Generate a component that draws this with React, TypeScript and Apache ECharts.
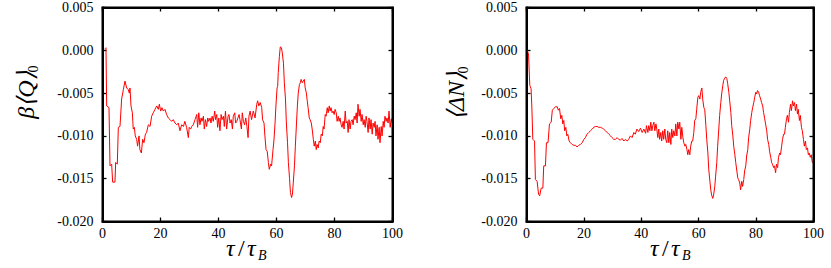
import React, { useEffect, useRef } from "react";
import * as echarts from "echarts";

// Left panel: beta <Q>_0 versus tau/tau_B
const qTimes = [
  0.9, 1.2, 1.44, 2.24, 2.59, 3.16, 3.5, 4.3, 4.54, 5.1, 5.46, 6.03, 6.6, 7.18, 7.76, 8.33, 8.9, 9.25, 9.48, 9.83,
  10.3, 10.6, 10.98, 11.3, 11.78, 12.1, 12.6, 12.9, 13.4, 13.85, 14.3, 14.8, 15.2, 15.8, 16.4, 16.95, 17.5, 18.1, 18.7, 19.25,
  19.6, 20.06, 20.5, 20.98, 21.55, 22.1, 22.7, 23.3, 23.85, 24.4, 25.0, 25.6, 26.15, 26.7, 27.3, 27.9, 28.4, 29.0, 29.6, 29.9,
  30.4, 30.75, 31.3, 31.9, 32.5, 32.8, 33.2, 33.6, 34.0, 34.3, 34.8, 35.1, 35.5, 35.9, 36.3, 36.6, 37.1, 37.4, 37.8, 38.2,
  38.7, 39.0, 39.4, 39.7, 40.1, 40.5, 40.9, 41.2, 41.7, 42.0, 42.4, 42.8, 43.3, 43.6, 44.0, 44.4, 44.8, 45.1, 45.6, 45.9,
  46.3, 46.7, 47.1, 47.4, 47.9, 48.2, 48.6, 49.0, 49.4, 49.8, 50.2, 50.5, 50.9, 51.4, 52.0, 52.6, 53.2, 53.5, 53.9, 54.4,
  54.9, 55.2, 55.7, 56.0, 56.4, 56.8, 57.2, 57.5, 58.0, 58.3, 58.8, 59.1, 59.5, 59.8, 60.2, 60.4, 60.6, 61.0, 61.3, 61.7,
  62.0, 62.4, 62.7, 63.1, 63.4, 63.8, 64.1, 64.5, 64.8, 65.2, 65.5, 65.8, 66.2, 66.5, 66.9, 67.2, 67.5, 67.9, 68.2, 68.5,
  68.9, 69.2, 69.6, 69.9, 70.3, 70.6, 70.9, 71.3, 71.6, 72.0, 72.3, 72.7, 73.0, 73.4, 73.7, 74.0, 74.4, 74.7, 75.1, 75.4,
  75.8, 76.1, 76.4, 76.8, 77.1, 77.5, 77.8, 78.2, 78.5, 78.8, 79.2, 79.5, 79.9, 80.2, 80.6, 80.9, 81.3, 81.6, 81.9, 82.3,
  82.6, 83.0, 83.3, 83.7, 84.0, 84.4, 84.7, 85.0, 85.4, 85.7, 86.1, 86.4, 86.8, 87.1, 87.5, 87.8, 88.1, 88.5, 88.8, 89.2,
  89.5, 89.9, 90.2, 90.6, 90.9, 91.2, 91.6, 91.9, 92.3, 92.6, 93.0, 93.3, 93.7, 94.0, 94.3, 94.7, 95.0, 95.4, 95.7, 96.1,
  96.4, 96.8, 97.1, 97.4, 97.8, 98.1, 98.5, 98.8, 99.2, 99.6, 100,
];
const qValues = [
  0.0002, 0.0003, -0.0065, -0.0067, -0.0135, -0.0133, -0.0154, -0.0154, -0.0131, -0.0133, -0.009, -0.0089, -0.0057, -0.0046, -0.0036, -0.0044, -0.0046, -0.005, -0.0044, -0.0065,
  -0.0073, -0.0092, -0.009, -0.01, -0.0104, -0.0112, -0.01, -0.0116, -0.012, -0.0104, -0.0108, -0.0098, -0.0096, -0.0087, -0.0089, -0.0077, -0.0073, -0.0069, -0.0065, -0.0069,
  -0.0063, -0.0071, -0.0067, -0.0071, -0.0069, -0.0075, -0.0079, -0.0081, -0.0083, -0.0081, -0.0085, -0.0087, -0.0085, -0.0094, -0.0087, -0.0089, -0.0083, -0.009, -0.0102, -0.009,
  -0.0092, -0.0089, -0.0087, -0.0081, -0.0075, -0.009, -0.0073, -0.0087, -0.0079, -0.0083, -0.0077, -0.0092, -0.0081, -0.0089, -0.0079, -0.0083, -0.0079, -0.0085, -0.0077, -0.0083,
  -0.0071, -0.0081, -0.0075, -0.009, -0.0079, -0.0094, -0.0075, -0.0081, -0.0077, -0.0089, -0.0071, -0.0092, -0.0077, -0.0075, -0.0085, -0.0081, -0.0092, -0.0077, -0.0073, -0.0085,
  -0.0083, -0.0079, -0.0075, -0.0081, -0.0092, -0.0073, -0.0083, -0.0087, -0.0079, -0.0089, -0.0102, -0.0077, -0.0071, -0.0081, -0.0071, -0.0079, -0.0063, -0.0059, -0.0065, -0.0061,
  -0.0067, -0.0081, -0.0085, -0.01, -0.0116, -0.0118, -0.0131, -0.0139, -0.0133, -0.0135, -0.0116, -0.0106, -0.0085, -0.0065, -0.0044, -0.0042, -0.0026, -0.0007, 0.0004, 0.0003,
  -0.0003, -0.0015, -0.0038, -0.0057, -0.0085, -0.0108, -0.0131, -0.015, -0.0166, -0.0172, -0.0168, -0.0154, -0.0135, -0.0112, -0.0085, -0.0065, -0.005, -0.004, -0.0038, -0.0034,
  -0.0038, -0.0036, -0.0034, -0.0044, -0.005, -0.0059, -0.0067, -0.0079, -0.0081, -0.0085, -0.0092, -0.0104, -0.0112, -0.0106, -0.0116, -0.011, -0.0114, -0.0106, -0.0108, -0.0098,
  -0.01, -0.0089, -0.0092, -0.0075, -0.0077, -0.0067, -0.0073, -0.0065, -0.0071, -0.0067, -0.0073, -0.0071, -0.0075, -0.0069, -0.0073, -0.0083, -0.0077, -0.0083, -0.0079, -0.0087,
  -0.009, -0.0083, -0.0092, -0.0071, -0.0085, -0.0083, -0.0096, -0.0081, -0.0092, -0.0083, -0.0081, -0.0087, -0.0077, -0.0081, -0.0073, -0.0085, -0.0063, -0.0077, -0.0069, -0.0083,
  -0.0075, -0.0087, -0.0081, -0.009, -0.0077, -0.0083, -0.0096, -0.0079, -0.0092, -0.0081, -0.0098, -0.0085, -0.009, -0.0083, -0.01, -0.0087, -0.0104, -0.009, -0.0108, -0.0089,
  -0.01, -0.0083, -0.009, -0.0077, -0.0083, -0.0079, -0.0085, -0.0071, -0.009, -0.008, -0.0085,
];

// Right panel: <Delta N>_0 versus tau/tau_B
const nTimes = [
  0.22, 0.7, 1.15, 1.6, 1.85, 2.2, 2.8, 3.1, 3.7, 4.2, 4.6, 5.1, 5.7, 6.0, 6.6, 6.95, 7.5, 8.0, 8.6, 9.0,
  9.5, 10.1, 10.7, 11.1, 11.5, 11.95, 12.3, 12.65, 13.0, 13.3, 13.7, 14.05, 14.4, 14.85, 15.3, 15.9, 16.5, 17.1, 17.6, 18.2,
  18.8, 19.4, 20.0, 20.5, 21.1, 21.7, 22.3, 22.9, 23.4, 24.0, 24.6, 25.2, 25.8, 26.4, 26.9, 27.5, 28.1, 28.7, 29.3, 29.8,
  30.4, 31.0, 31.6, 32.1, 32.7, 33.3, 33.9, 34.5, 35.1, 35.6, 36.2, 36.8, 37.4, 37.9, 38.5, 39.1, 39.7, 40.3, 40.9, 41.5,
  41.8, 42.3, 42.6, 43.0, 43.3, 43.7, 44.0, 44.4, 44.7, 45.1, 45.4, 45.75, 46.1, 46.4, 46.8, 47.1, 47.5, 47.8, 48.2, 48.5,
  48.9, 49.2, 49.6, 49.9, 50.3, 50.6, 50.97, 51.3, 51.7, 52.0, 52.4, 52.7, 53.1, 53.4, 53.8, 54.1, 54.5, 54.8, 55.2, 55.5,
  55.9, 56.2, 56.5, 56.9, 57.2, 57.6, 57.9, 58.3, 58.6, 59.0, 59.3, 59.7, 60.0, 60.4, 60.7, 61.1, 61.4, 61.8, 62.1, 62.5,
  62.8, 63.2, 63.5, 63.9, 64.2, 64.5, 64.9, 65.2, 65.6, 65.9, 66.3, 66.6, 67.0, 67.3, 67.7, 68.0, 68.4, 68.7, 69.1, 69.4,
  69.8, 70.1, 70.5, 70.8, 71.2, 71.5, 71.9, 72.2, 72.6, 72.9, 73.3, 73.6, 73.9, 74.3, 74.6, 75.0, 75.3, 75.7, 76.0, 76.4,
  76.7, 77.1, 77.4, 77.8, 78.1, 78.5, 78.8, 79.2, 79.5, 79.9, 80.2, 80.5, 80.9, 81.2, 81.6, 81.9, 82.3, 82.6, 83.0, 83.3,
  83.7, 84.0, 84.4, 84.7, 85.1, 85.4, 85.7, 86.1, 86.4, 86.8, 87.1, 87.5, 87.8, 88.2, 88.5, 88.9, 89.2, 89.6, 89.9, 90.2,
  90.6, 90.9, 91.3, 91.6, 92.0, 92.3, 92.7, 93.0, 93.4, 93.7, 94.1, 94.4, 94.7, 95.1, 95.4, 95.8, 96.1, 96.5, 96.8, 97.2,
  97.5, 97.9, 98.2, 98.5, 98.9, 99.2, 99.6, 99.9,
];
const nValues = [
  0.0, -0.0004, -0.0041, -0.0045, -0.0065, -0.0104, -0.0106, -0.0151, -0.0153, -0.0168, -0.017, -0.0161, -0.0161, -0.0135, -0.0135, -0.0108, -0.0108, -0.0086, -0.0084, -0.007,
  -0.0068, -0.0066, -0.0066, -0.007, -0.0068, -0.008, -0.0076, -0.0086, -0.0082, -0.0094, -0.009, -0.01, -0.0098, -0.0106, -0.0108, -0.011, -0.0111, -0.0111, -0.0113, -0.0111,
  -0.011, -0.0108, -0.0104, -0.0102, -0.0098, -0.0096, -0.0094, -0.0092, -0.009, -0.0089, -0.0089, -0.009, -0.009, -0.0091, -0.0092, -0.0094, -0.0096, -0.0098, -0.01, -0.0102,
  -0.0104, -0.0104, -0.0102, -0.0104, -0.0105, -0.0103, -0.0106, -0.0104, -0.0106, -0.0104, -0.01, -0.0102, -0.0096, -0.0098, -0.0092, -0.0095, -0.0091, -0.0096, -0.0092, -0.0097,
  -0.0088, -0.0096, -0.0088, -0.0094, -0.0084, -0.0094, -0.0088, -0.0084, -0.0094, -0.0086, -0.0092, -0.0102, -0.0092, -0.0104, -0.0096, -0.0106, -0.0094, -0.0104, -0.0092, -0.0104,
  -0.0108, -0.0094, -0.0108, -0.0096, -0.011, -0.0092, -0.0102, -0.0094, -0.01, -0.0086, -0.01, -0.0084, -0.0092, -0.0084, -0.0104, -0.009, -0.0102, -0.0108, -0.0112, -0.011,
  -0.0116, -0.0122, -0.0116, -0.0122, -0.0112, -0.0106, -0.0106, -0.0096, -0.0082, -0.008, -0.0069, -0.0055, -0.0053, -0.0057, -0.0049, -0.0044, -0.0057, -0.0067, -0.0069, -0.0088,
  -0.0104, -0.012, -0.0139, -0.0153, -0.0163, -0.0169, -0.0173, -0.0169, -0.0159, -0.0147, -0.0131, -0.0112, -0.0092, -0.0076, -0.0061, -0.0051, -0.0041, -0.0035, -0.00325, -0.0031,
  -0.0033, -0.0039, -0.0049, -0.0059, -0.00725, -0.0088, -0.01, -0.0112, -0.0122, -0.0131, -0.0141, -0.0149, -0.0151, -0.0155, -0.0163, -0.0153, -0.0159, -0.0151, -0.0141, -0.0135,
  -0.01235, -0.0116, -0.0102, -0.0092, -0.0082, -0.00725, -0.0067, -0.0061, -0.0055, -0.0049, -0.0051, -0.0047, -0.0049, -0.0053, -0.0057, -0.0061, -0.0065, -0.00725, -0.008, -0.0086,
  -0.0094, -0.0104, -0.011, -0.0118, -0.0125, -0.0131, -0.0133, -0.0137, -0.0135, -0.0143, -0.0133, -0.0137, -0.0125, -0.012, -0.0122, -0.0112, -0.0104, -0.0098, -0.0098, -0.009,
  -0.008, -0.0076, -0.0084, -0.00725, -0.0063, -0.00705, -0.0059, -0.0065, -0.0061, -0.00705, -0.0063, -0.00745, -0.0069, -0.0082, -0.0076, -0.009, -0.0094, -0.0104, -0.0112, -0.0106,
  -0.0116, -0.0114, -0.0122, -0.012, -0.0125, -0.0122, -0.0131, -0.0132,
];

const xTicks = { min: 0, max: 100, interval: 20 };
const yTicks = { min: -0.02, max: 0.005, interval: 0.005 };

const SERIF = "serif";

function fmtY(v: number): string {
  if (Math.abs(v) < 1e-9) return "0.000";
  return v.toFixed(3);
}

const tf = (size: number, italic: boolean) => ({
  fontFamily: SERIF, fontSize: size, fontStyle: italic ? "italic" : "normal", fill: "#000",
});

function buildOption(times: number[], values: number[], gridLeft: number, gridWidth: number, yTitle: string, yTitleX: number, yTitleY: number, xTitleX: number) {
  const mkTick = () => ({ show: true, inside: true, length: 4, lineStyle: { color: "#000", width: 1.3 } });
  const mkLine = () => ({ show: true, onZero: false, lineStyle: { color: "#000", width: 2 } });
  return {
    animation: false,
    textStyle: { fontFamily: SERIF },
    grid: [{ left: gridLeft, top: 7.5, width: gridWidth, height: 214 }],
    xAxis: [
      {
        type: "value", position: "bottom", ...xTicks, axisLine: mkLine(), splitLine: { show: false }, axisTick: mkTick(),
        axisLabel: { color: "#000", fontFamily: SERIF, fontSize: 14, margin: 5 },
      },
      {
        type: "value", position: "top", ...xTicks, axisLine: mkLine(), splitLine: { show: false }, axisTick: mkTick(),
        axisLabel: { show: false },
      },
    ],
    yAxis: [
      {
        type: "value", position: "left", ...yTicks, axisLine: mkLine(), splitLine: { show: false }, axisTick: mkTick(),
        axisLabel: { color: "#000", fontFamily: SERIF, fontSize: 14, margin: 9, formatter: fmtY },
      },
      {
        type: "value", position: "right", ...yTicks, axisLine: mkLine(), splitLine: { show: false }, axisTick: mkTick(),
        axisLabel: { show: false },
      },
    ],
    series: [
      {
        type: "line", xAxisIndex: 0, yAxisIndex: 0, showSymbol: false,
        data: times.map((t, i) => [t, values[i]]),
        lineStyle: { color: "#ff0000", width: 1 },
      },
    ],
    graphic: [
      {
        type: "rect", z: 100, silent: true,
        shape: { x: gridLeft, y: 7.5, width: gridWidth, height: 214 },
        style: { fill: "none", stroke: "#000", lineWidth: 2 },
      },
      { type: "text", x: xTitleX, y: 248, style: { text: "τ", ...tf(24, true), verticalAlign: "middle" } },
      { type: "text", x: xTitleX + 12, y: 248, style: { text: "/", ...tf(24, false), verticalAlign: "middle" } },
      { type: "text", x: xTitleX + 21, y: 248, style: { text: "τ", ...tf(24, true), verticalAlign: "middle" } },
      { type: "text", x: xTitleX + 32, y: 255, style: { text: "B", ...tf(14, true), verticalAlign: "middle" } },
      { type: "text", x: yTitleX, y: yTitleY, rotation: Math.PI / 2, style: { text: yTitle, ...tf(24, true), align: "center", verticalAlign: "middle" } },
      { type: "text", x: yTitleX + 7, y: yTitleY - 26, rotation: Math.PI / 2, style: { text: "0", ...tf(14, false), align: "center", verticalAlign: "middle" } },
    ],
  };
}

export default function App() {
  const leftRef = useRef<HTMLDivElement>(null);
  const rightRef = useRef<HTMLDivElement>(null);
  useEffect(() => {
    if (!leftRef.current || !rightRef.current) return;
    const c1 = echarts.init(leftRef.current, undefined, { renderer: "svg" });
    const c2 = echarts.init(rightRef.current, undefined, { renderer: "svg" });
    c1.setOption(buildOption(qTimes, qValues, 102.5, 290, "β⟨Q⟩", 26, 95, 226) as any);
    c2.setOption(buildOption(nTimes, nValues, 111.5, 287, "⟨ΔN⟩", 41, 96, 235) as any);
    return () => {
      c1.dispose();
      c2.dispose();
    };
  }, []);
  return (
    <div>
      <div ref={leftRef} style={{ position: "absolute", left: 0, top: 0, width: 415, height: 268 }} />
      <div ref={rightRef} style={{ position: "absolute", left: 415, top: 0, width: 416, height: 268 }} />
    </div>
  );
}
